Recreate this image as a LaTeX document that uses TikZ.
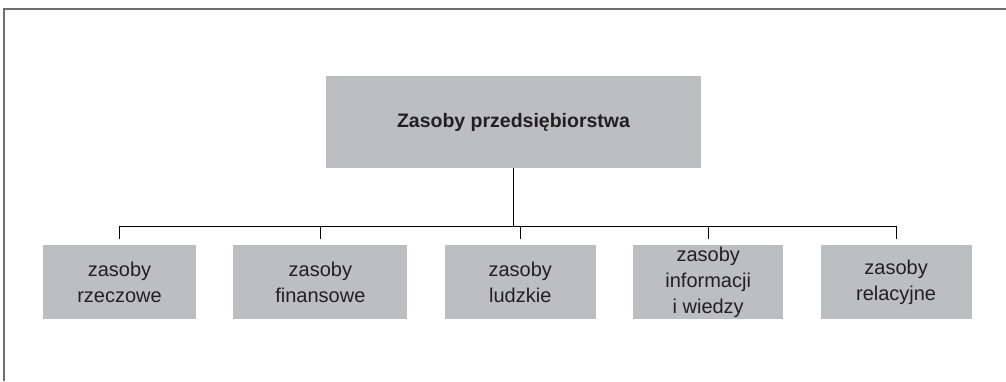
\documentclass[tikz,border=0pt]{standalone}
\usepackage{fontspec}
\setmainfont{Liberation Sans}
\usepackage{tikz}
\usetikzlibrary{positioning}
\usepackage{xcolor}
\definecolor{boxgray}{HTML}{BDBEC2}
\definecolor{framegray}{HTML}{6E6E6E}
\definecolor{inkgray}{HTML}{231F20}

\begin{document}
\begin{tikzpicture}[
  x=1pt, y=1pt,
  node distance=37pt,
  res/.style={fill=boxgray, text=inkgray, align=center, inner sep=0pt,
    minimum height=74pt, font=\fontsize{20}{26}\selectfont},
  head/.style={res, minimum width=375pt, minimum height=92pt,
    font=\fontsize{19.5}{24}\selectfont\bfseries},
  link/.style={draw=black, line width=1pt},
  frame/.style={draw=framegray, line width=2pt}
]
  \useasboundingbox (0,0) rectangle (1006,381);
  \draw[frame] (3.5,0) |- (1006,372);

  \node[head] (top) at (513.5,259) {Zasoby przedsiębiorstwa};

  \node[res, minimum width=153pt] (rzecz) at (119.5,99) {zasoby\\rzeczowe};
  \node[res, minimum width=174pt, right=of rzecz] (finans) {zasoby\\finansowe};
  \node[res, minimum width=151pt, right=of finans] (ludz) {zasoby\\ludzkie};
  \node[res, minimum width=150pt, right=of ludz] (info) {zasoby\\informacji\\i wiedzy};
  \node[res, minimum width=151pt, right=of info] (relac) {zasoby\\relacyjne};

  \coordinate[below=58pt of top] (hub);

  \draw[link] (top) -- (hub);
  \draw[link] ([yshift=6pt]rzecz.north) |- (hub) -| ([yshift=6pt]relac.north);
  \foreach \n in {finans,ludz,info}
    \draw[link] ([yshift=6pt]\n.north) -- (\n.north |- hub);
\end{tikzpicture}
\end{document}
